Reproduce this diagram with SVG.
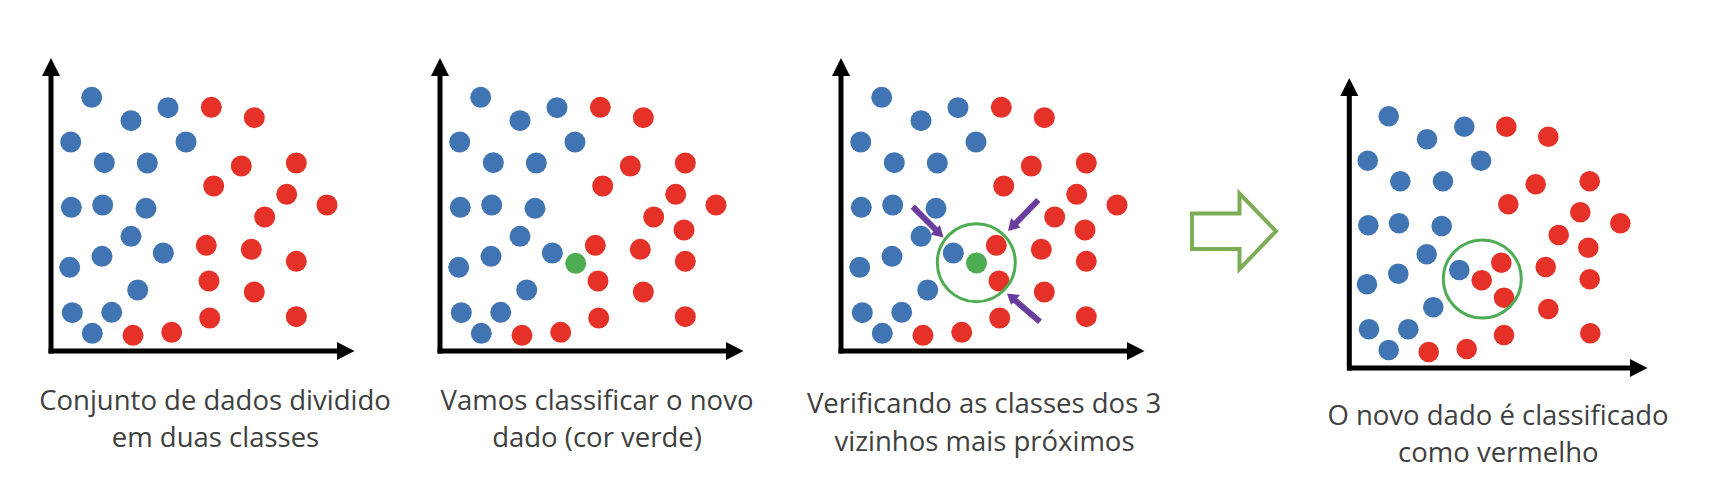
<svg xmlns="http://www.w3.org/2000/svg" xmlns:xlink="http://www.w3.org/1999/xlink" width="1734" height="504" viewBox="0 0 1734 504">
<style>
.b{fill:#4174B3}
.r{fill:#E53127}
.g{fill:#4EAC53}
.ax{stroke:#000;stroke-width:5;fill:none}
.ah{fill:#000}
.ring{fill:none;stroke:#4EAC53;stroke-width:3}
.pa{stroke:#6A3C9E;stroke-width:6;fill:none}
.ph{fill:#6A3C9E}
.cap{font-family:"Open Sans","Liberation Sans",sans-serif;font-weight:400;font-size:27.5px;fill:#404040;text-anchor:middle}
</style>
<defs>
<g id="base">
<circle class="b" cx="480.7" cy="97.3" r="10.5"/>
<circle class="b" cx="520" cy="120.7" r="10.5"/>
<circle class="b" cx="557" cy="107.7" r="10.5"/>
<circle class="b" cx="459.7" cy="142" r="10.5"/>
<circle class="b" cx="575" cy="142" r="10.5"/>
<circle class="b" cx="493.3" cy="162.7" r="10.5"/>
<circle class="b" cx="536.3" cy="163" r="10.5"/>
<circle class="b" cx="460.3" cy="207.3" r="10.5"/>
<circle class="b" cx="491.7" cy="205" r="10.5"/>
<circle class="b" cx="535" cy="208.3" r="10.5"/>
<circle class="b" cx="520" cy="236.3" r="10.5"/>
<circle class="b" cx="552.3" cy="253" r="10.5"/>
<circle class="b" cx="458.7" cy="267.3" r="10.5"/>
<circle class="b" cx="491" cy="256.3" r="10.5"/>
<circle class="b" cx="526.7" cy="290" r="10.5"/>
<circle class="b" cx="461.3" cy="312.7" r="10.5"/>
<circle class="b" cx="500.7" cy="312.3" r="10.5"/>
<circle class="b" cx="481.3" cy="333.3" r="10.5"/>
<circle class="r" cx="600.3" cy="107.3" r="10.5"/>
<circle class="r" cx="643.3" cy="117.7" r="10.5"/>
<circle class="r" cx="630.3" cy="166" r="10.5"/>
<circle class="r" cx="685.3" cy="163" r="10.5"/>
<circle class="r" cx="602.7" cy="186" r="10.5"/>
<circle class="r" cx="675.7" cy="194.3" r="10.5"/>
<circle class="r" cx="716" cy="205" r="10.5"/>
<circle class="r" cx="653.7" cy="217" r="10.5"/>
<circle class="r" cx="595.3" cy="245.3" r="10.5"/>
<circle class="r" cx="640.3" cy="249.3" r="10.5"/>
<circle class="r" cx="685.3" cy="261.3" r="10.5"/>
<circle class="r" cx="598" cy="281" r="10.5"/>
<circle class="r" cx="643.3" cy="292" r="10.5"/>
<circle class="r" cx="598.7" cy="318" r="10.5"/>
<circle class="r" cx="685.3" cy="316.7" r="10.5"/>
<circle class="r" cx="522" cy="335.3" r="10.5"/>
<circle class="r" cx="560.7" cy="332.3" r="10.5"/>
<line class="ax" x1="440" y1="74" x2="440" y2="353.5"/>
<polygon class="ah" points="431,76 449,76 440,58"/>
<line class="ax" x1="437.5" y1="351" x2="728" y2="351"/>
<polygon class="ah" points="726,342 726,360 743.5,351"/>
</g>
</defs>

<g id="panel1">
<use xlink:href="#base" transform="translate(-389,0)"/>
</g>

<g id="panel2">
<use xlink:href="#base"/>
<circle class="r" cx="684" cy="230" r="10.5"/>
<circle class="g" cx="575.7" cy="263.3" r="10.5"/>
</g>

<g id="panel3">
<use xlink:href="#base" transform="translate(401,0)"/>
<circle class="r" cx="1085" cy="230" r="10.5"/>
<circle class="g" cx="976.5" cy="263" r="10.5"/>
<circle class="ring" cx="976.3" cy="262.7" r="39"/>
</g>

<g id="connectors">
<line class="pa" x1="912.7" y1="206.7" x2="936" y2="230"/>
<polygon class="ph" points="943.5,237.5 930.5,234.5 940,225"/>
<line class="pa" x1="1038.3" y1="200" x2="1015" y2="224"/>
<polygon class="ph" points="1008,231 1011,218 1020.5,227.5"/>
<line class="pa" x1="1040" y1="321.7" x2="1014" y2="299.5"/>
<polygon class="ph" points="1007,293.5 1020,295 1011,305"/>
<polygon points="1192,213.5 1239.5,213.5 1239.5,193.5 1276,231.3 1239.5,269 1239.5,249 1192,249" fill="none" stroke="#7DAD55" stroke-width="4"/>
</g>

<g id="panel4">
<circle class="b" cx="1388.7" cy="116.3" r="10.3"/>
<circle class="b" cx="1427" cy="139.3" r="10.3"/>
<circle class="b" cx="1464.3" cy="126.7" r="10.3"/>
<circle class="b" cx="1367.7" cy="160.7" r="10.3"/>
<circle class="b" cx="1481" cy="160.7" r="10.3"/>
<circle class="b" cx="1400.3" cy="181.3" r="10.3"/>
<circle class="b" cx="1443" cy="181.3" r="10.3"/>
<circle class="b" cx="1368.3" cy="225.3" r="10.3"/>
<circle class="b" cx="1399" cy="223.3" r="10.3"/>
<circle class="b" cx="1441.7" cy="226" r="10.3"/>
<circle class="b" cx="1426.7" cy="254.3" r="10.3"/>
<circle class="b" cx="1459.3" cy="270" r="10.3"/>
<circle class="b" cx="1367" cy="284.3" r="10.3"/>
<circle class="b" cx="1398.3" cy="273.7" r="10.3"/>
<circle class="b" cx="1433.3" cy="307.3" r="10.3"/>
<circle class="b" cx="1369" cy="329.3" r="10.3"/>
<circle class="b" cx="1408.3" cy="329.3" r="10.3"/>
<circle class="b" cx="1388.7" cy="350" r="10.3"/>
<circle class="r" cx="1506.3" cy="126.7" r="10.3"/>
<circle class="r" cx="1548.3" cy="136.7" r="10.3"/>
<circle class="r" cx="1535.7" cy="184.3" r="10.3"/>
<circle class="r" cx="1589.7" cy="181.3" r="10.3"/>
<circle class="r" cx="1508.3" cy="204.3" r="10.3"/>
<circle class="r" cx="1580.3" cy="212.3" r="10.3"/>
<circle class="r" cx="1620.3" cy="223.3" r="10.3"/>
<circle class="r" cx="1558.7" cy="235" r="10.3"/>
<circle class="r" cx="1588.3" cy="247.7" r="10.3"/>
<circle class="r" cx="1501.3" cy="262.7" r="10.3"/>
<circle class="r" cx="1481.7" cy="280.3" r="10.3"/>
<circle class="r" cx="1545.7" cy="267" r="10.3"/>
<circle class="r" cx="1589.7" cy="279.3" r="10.3"/>
<circle class="r" cx="1504" cy="297.7" r="10.3"/>
<circle class="r" cx="1548.3" cy="309" r="10.3"/>
<circle class="r" cx="1504" cy="335" r="10.3"/>
<circle class="r" cx="1590.3" cy="333.3" r="10.3"/>
<circle class="r" cx="1428.7" cy="352" r="10.3"/>
<circle class="r" cx="1466.7" cy="349" r="10.3"/>
<circle class="ring" cx="1482.3" cy="279" r="39"/>
<line class="ax" x1="1349.3" y1="94" x2="1349.3" y2="370.5"/>
<polygon class="ah" points="1340.3,96 1358.3,96 1349.3,78"/>
<line class="ax" x1="1347" y1="368" x2="1632" y2="368"/>
<polygon class="ah" points="1630,359 1630,377 1647.5,368"/>
</g>

<g id="captions">
<text class="cap" x="215" y="410">Conjunto de dados dividido</text>
<text class="cap" x="215.5" y="447">em duas classes</text>
<text class="cap" x="597" y="410">Vamos classificar o novo</text>
<text class="cap" x="597" y="447">dado (cor verde)</text>
<text class="cap" x="984" y="413">Verificando as classes dos 3</text>
<text class="cap" x="984.5" y="450.5">vizinhos mais próximos</text>
<text class="cap" x="1498" y="425">O novo dado é classificado</text>
<text class="cap" x="1498.3" y="461.5">como vermelho</text>
</g>
</svg>
